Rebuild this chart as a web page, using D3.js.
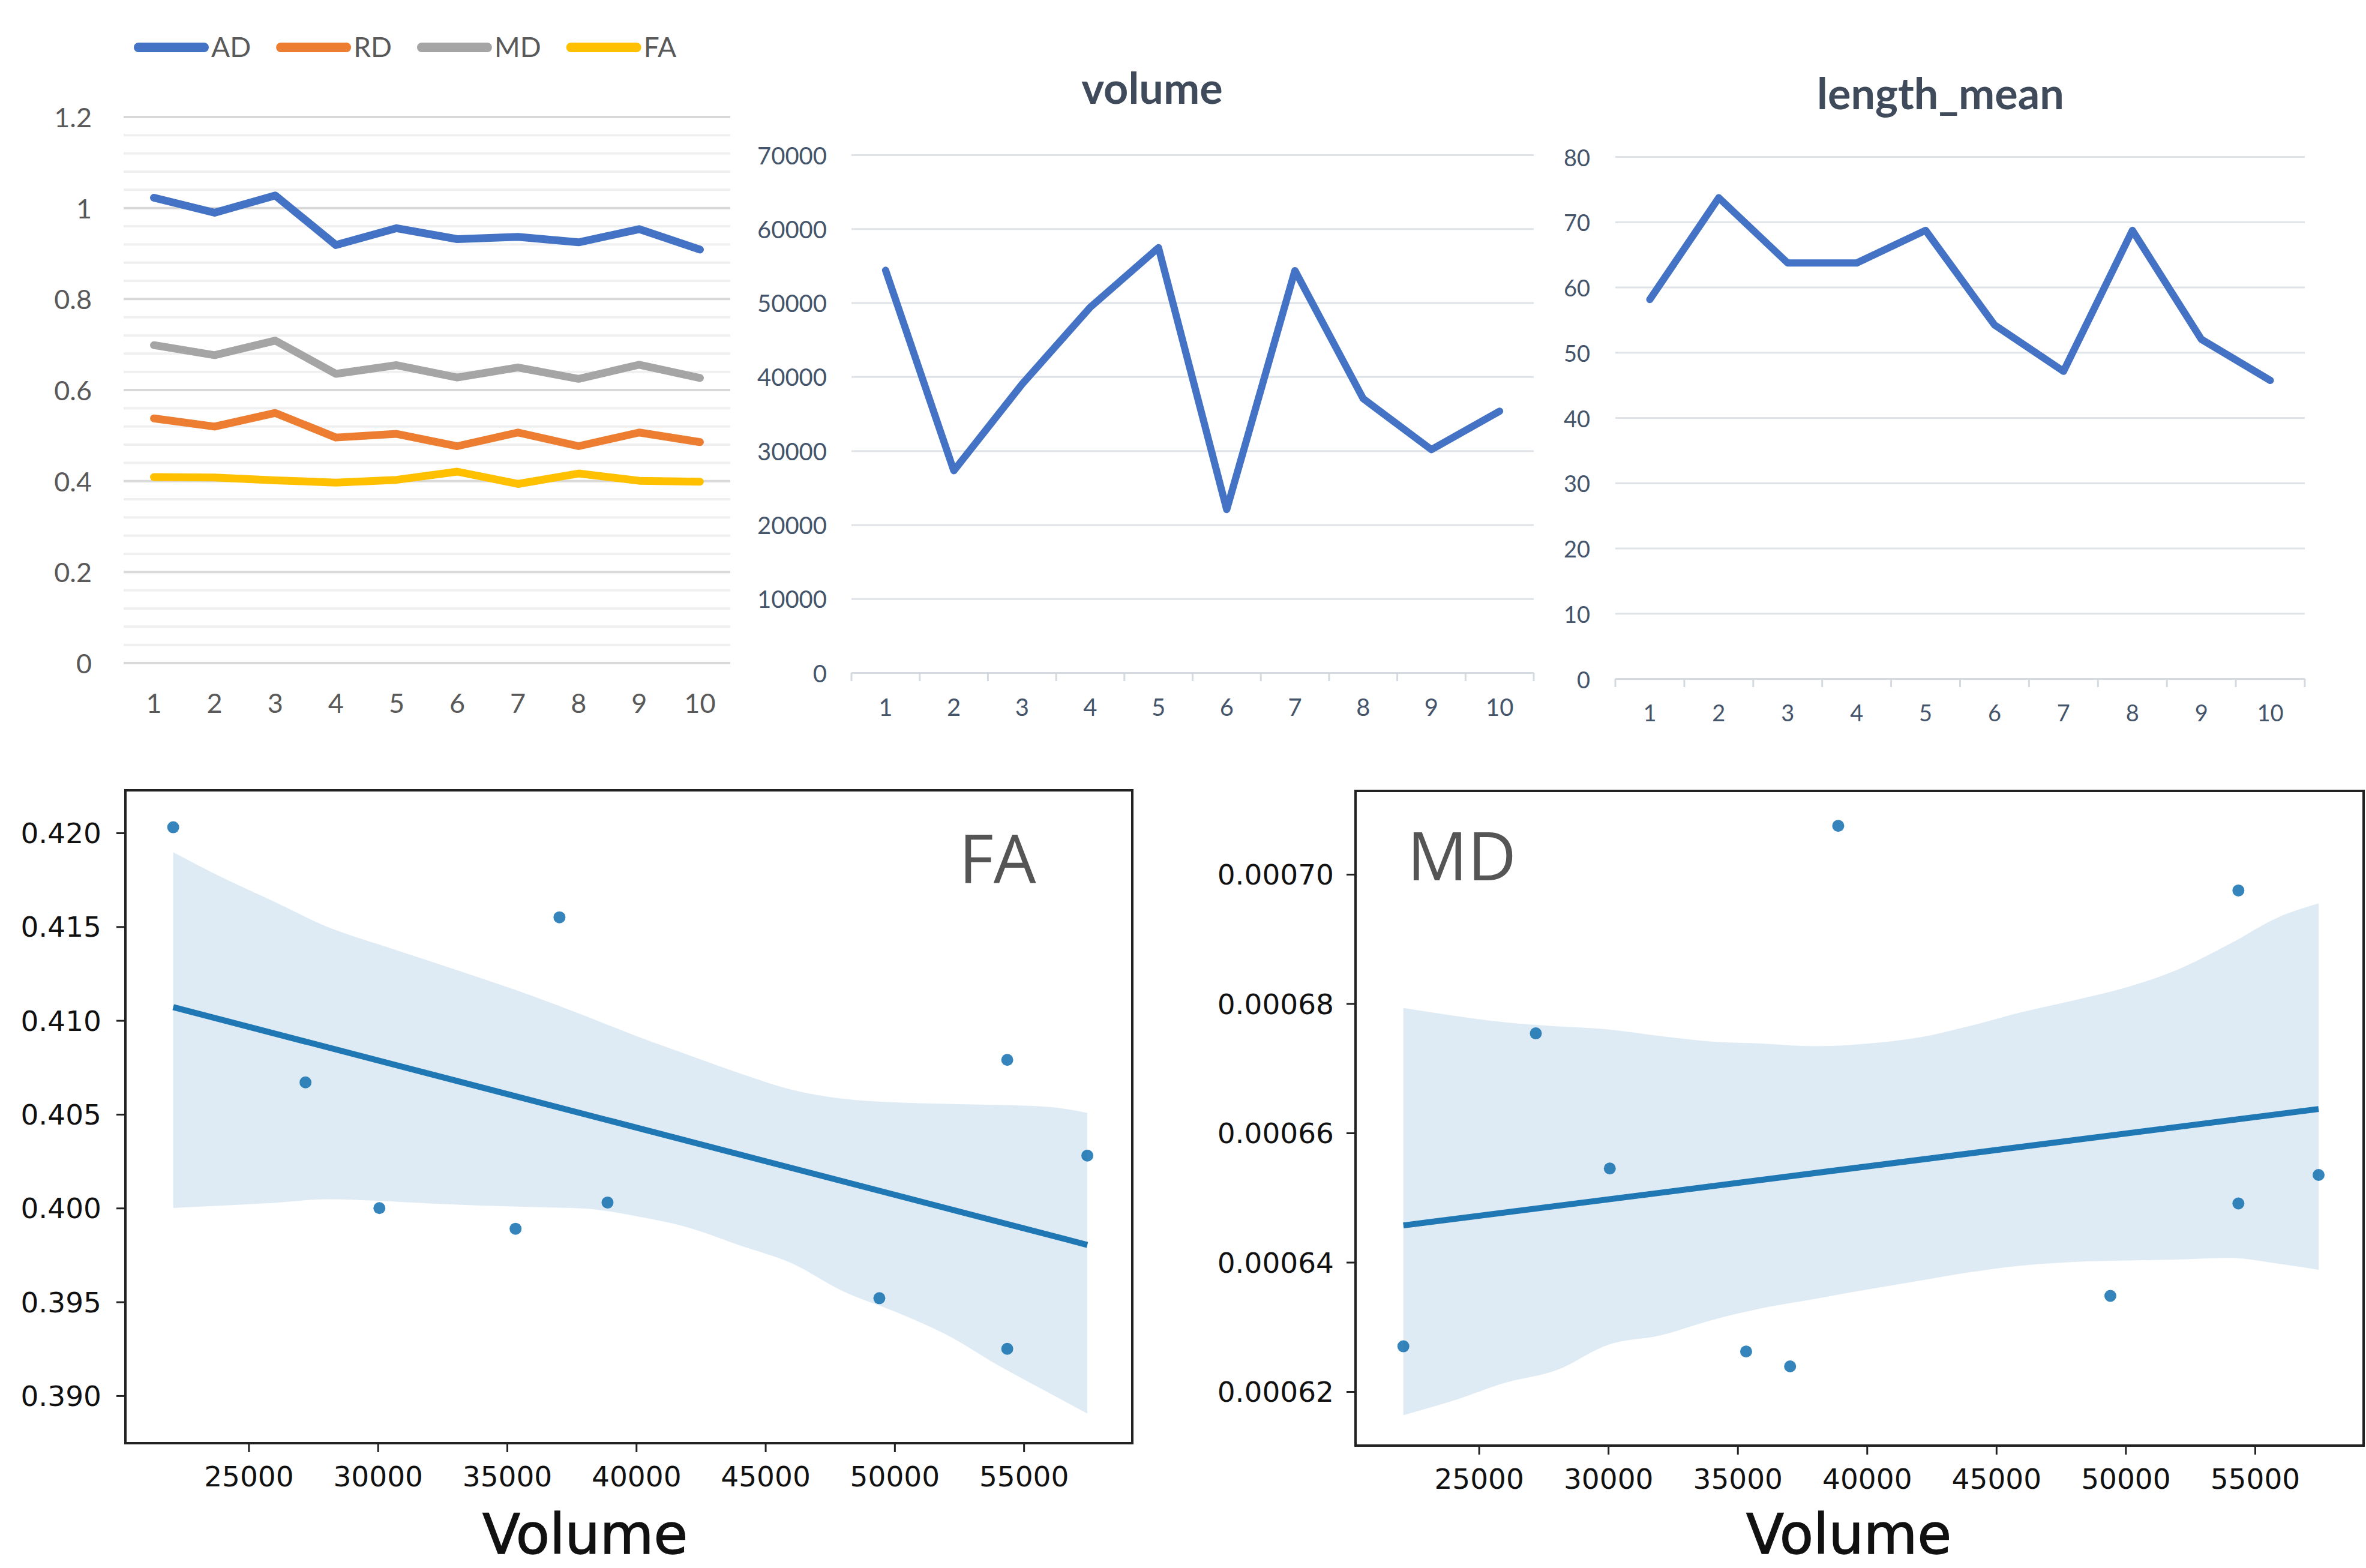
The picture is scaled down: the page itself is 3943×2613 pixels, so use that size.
<!DOCTYPE html>
<html>
<head>
<meta charset="utf-8">
<script src="https://cdn.jsdelivr.net/npm/d3@7"></script>
<style>
  body { margin: 0; background: #fff; }
  svg { display: block; }
</style>
</head>
<body>
<svg id="chart" width="3943" height="2613"></svg>
<script>
// ---- data ----
const categories = [1, 2, 3, 4, 5, 6, 7, 8, 9, 10];
const seriesNames = ["AD", "RD", "MD", "FA"];
const adValues = [1.022, 0.989, 1.027, 0.918, 0.955, 0.931, 0.936, 0.924, 0.953, 0.908];
const rdValues = [0.537, 0.519, 0.549, 0.495, 0.503, 0.476, 0.506, 0.476, 0.506, 0.485];
const mdValues = [0.698, 0.676, 0.708, 0.635, 0.654, 0.627, 0.649, 0.624, 0.655, 0.626];
const faValues = [0.408, 0.407, 0.401, 0.396, 0.402, 0.420, 0.393, 0.416, 0.400, 0.398];
const diffTicks = [0, 0.2, 0.4, 0.6, 0.8, 1, 1.2];

const volumeValues = [54400, 27300, 39000, 49400, 57450, 22050, 54350, 37050, 30150, 35350];
const volumeTicks = [0, 10000, 20000, 30000, 40000, 50000, 60000, 70000];

const lengthMeanValues = [58.1, 73.7, 63.7, 63.7, 68.7, 54.2, 47.1, 68.7, 52.0, 45.7];
const lengthTicks = [0, 10, 20, 30, 40, 50, 60, 70, 80];

// scatter panels (x = volume)
const scatterVolume = [22080, 27200, 30060, 35330, 37030, 38890, 49410, 54360, 54360, 57460];
const faScatter = [0.4203, 0.4067, 0.4000, 0.3989, 0.4155, 0.4003, 0.3952, 0.4079, 0.3925, 0.4028];
const mdScatter = [0.0006270, 0.0006754, 0.0006545, 0.0006262, 0.0006239, 0.0007075, 0.0006348, 0.0006975, 0.0006491, 0.0006535];
const scatterXTicks = [25000, 30000, 35000, 40000, 45000, 50000, 55000];
const faYTicks = [0.390, 0.395, 0.400, 0.405, 0.410, 0.415, 0.420];
const mdYTicks = [0.00062, 0.00064, 0.00066, 0.00068, 0.00070];

// regression lines (end points) and confidence bands
const fitVolume = [22080, 57460];
const faFit = [0.41071, 0.39804];
const mdFit = [0.0006457, 0.0006637];
const bandVolume = [22080, 24000, 26000, 28000, 30000, 32000, 34000, 36000, 38000, 40000,
  42000, 44000, 46000, 48000, 50000, 52000, 54000, 56000, 57460];
const faBandUpper = [0.41897, 0.41761, 0.41633, 0.41502, 0.41407, 0.41317, 0.41225, 0.41130, 0.41026, 0.40917,
  0.40817, 0.40719, 0.40632, 0.40583, 0.40564, 0.40556, 0.40550, 0.40539, 0.40507];
const faBandLower = [0.40001, 0.40014, 0.40028, 0.40047, 0.40039, 0.40025, 0.40014, 0.40006, 0.39998, 0.39957,
  0.39897, 0.39802, 0.39707, 0.39557, 0.39449, 0.39326, 0.39163, 0.39013, 0.38905];
const mdBandUpper = [0.00067933, 0.00067815, 0.00067712, 0.00067649, 0.00067601, 0.00067499, 0.00067412, 0.00067381, 0.00067341, 0.00067381,
  0.00067475, 0.00067657, 0.00067870, 0.00068051, 0.00068248, 0.00068525, 0.00068919, 0.00069353, 0.00069550];
const mdBandLower = [0.00061637, 0.00061858, 0.00062134, 0.00062331, 0.00062725, 0.00062867, 0.00063104, 0.00063294, 0.00063435, 0.00063578,
  0.00063712, 0.00063846, 0.00063948, 0.00064004, 0.00064027, 0.00064043, 0.00064067, 0.00063972, 0.00063885];

const svg = d3.select("#chart");
const excelFont = "Lato, 'Open Sans', sans-serif";
const mplFont = "'DejaVu Sans', sans-serif";

// ---------- panel 1 : AD / RD / MD / FA ----------
(function () {
  const left = 206, right = 1217;
  const x = d3.scalePoint().domain(categories).range([left, right]).padding(0.5);
  const y = d3.scaleLinear().domain([0, 1.2]).range([1104.5, 194.5]);
  const g = svg.append("g");

  // minor grid every 0.04
  const minor = d3.range(1, 30).map(i => i * 0.04).filter(v => Math.abs(v / 0.2 - Math.round(v / 0.2)) > 1e-6);
  g.append("g")
    .attr("transform", `translate(${left},0)`)
    .call(d3.axisLeft(y).tickValues(minor).tickSize(-(right - left)).tickFormat(""))
    .call(a => a.select(".domain").remove())
    .call(a => a.selectAll("line").attr("stroke", "#f0f0f0").attr("stroke-width", 4));

  g.append("g")
    .attr("transform", `translate(${left},0)`)
    .call(d3.axisLeft(y).tickValues(diffTicks).tickSize(-(right - left)).tickPadding(53)
      .tickFormat(d => String(+d.toFixed(1))))
    .call(a => a.select(".domain").remove())
    .call(a => a.selectAll("line").attr("stroke", "#d9d9d9").attr("stroke-width", 4))
    .call(a => a.selectAll("text").attr("dy", null).attr("dominant-baseline", "central")
      .attr("font-family", excelFont).attr("font-size", 45).attr("fill", "#595959"));

  g.append("g").selectAll("text")
    .data(categories)
    .join("text")
    .attr("x", d => x(d))
    .attr("y", 1171)
    .attr("text-anchor", "middle")
    .attr("dominant-baseline", "central")
    .attr("font-family", excelFont)
    .attr("font-size", 45)
    .attr("fill", "#595959")
    .text(d => d);

  const series = [
    { name: "AD", values: adValues, color: "#4472c4" },
    { name: "RD", values: rdValues, color: "#ed7d31" },
    { name: "MD", values: mdValues, color: "#a5a5a5" },
    { name: "FA", values: faValues, color: "#ffc000" }
  ];
  const line = d3.line().x((d, i) => x(categories[i])).y(d => y(d));
  g.selectAll(".series")
    .data(series)
    .join("path")
    .attr("fill", "none")
    .attr("stroke", d => d.color)
    .attr("stroke-width", 13)
    .attr("stroke-linejoin", "round")
    .attr("stroke-linecap", "round")
    .attr("d", d => line(d.values));

  // legend
  const leg = g.append("g");
  let cx = 223;
  series.forEach(s => {
    leg.append("line")
      .attr("x1", cx + 8).attr("x2", cx + 117)
      .attr("y1", 79).attr("y2", 79)
      .attr("stroke", s.color).attr("stroke-width", 16).attr("stroke-linecap", "round");
    const t = leg.append("text")
      .attr("x", cx + 129).attr("y", 77)
      .attr("dominant-baseline", "central")
      .attr("font-family", excelFont).attr("font-size", 46).attr("fill", "#595959")
      .text(s.name);
    cx = cx + 129 + t.node().getComputedTextLength() + 42;
  });
})();

// ---------- excel style single-series line chart ----------
function singleLine(cfg) {
  const g = svg.append("g");
  const x = d3.scalePoint().domain(categories).range([cfg.left, cfg.right]).padding(0.5);
  const y = d3.scaleLinear().domain([0, cfg.max]).range([cfg.bottom, cfg.top]);
  const step = x.step();

  g.append("g")
    .attr("transform", `translate(${cfg.left},0)`)
    .call(d3.axisLeft(y).tickValues(cfg.ticks).tickSize(-(cfg.right - cfg.left)).tickPadding(cfg.labelPad)
      .tickFormat(d3.format("d")))
    .call(a => a.select(".domain").remove())
    .call(a => a.selectAll("line").attr("stroke", "#dfe3e8").attr("stroke-width", 3)
      .filter(d => d === 0).attr("stroke", "#d5dae1"))
    .call(a => a.selectAll("text").attr("dy", null).attr("dominant-baseline", "central")
      .attr("font-family", excelFont).attr("font-size", cfg.fontSize).attr("fill", "#44546a"));

  // category boundary ticks on the base line
  const bounds = categories.map(c => x(c) - step / 2).concat([cfg.right]);
  g.append("g").selectAll("line")
    .data(bounds)
    .join("line")
    .attr("x1", d => d).attr("x2", d => d)
    .attr("y1", cfg.bottom).attr("y2", cfg.bottom + 14)
    .attr("stroke", "#d5dae1").attr("stroke-width", 3);

  g.append("g").selectAll("text")
    .data(categories)
    .join("text")
    .attr("x", d => x(d))
    .attr("y", cfg.labelY)
    .attr("text-anchor", "middle")
    .attr("dominant-baseline", "central")
    .attr("font-family", excelFont)
    .attr("font-size", cfg.fontSize)
    .attr("fill", "#44546a")
    .text(d => d);

  g.append("path")
    .datum(cfg.values)
    .attr("fill", "none")
    .attr("stroke", "#4472c4")
    .attr("stroke-width", 12)
    .attr("stroke-linejoin", "round")
    .attr("stroke-linecap", "round")
    .attr("d", d3.line().x((d, i) => x(categories[i])).y(d => y(d)));

  g.append("text")
    .attr("x", cfg.titleX).attr("y", cfg.titleY)
    .attr("text-anchor", "middle")
    .attr("font-family", excelFont).attr("font-weight", "bold")
    .attr("font-size", 72).attr("fill", "#3f4b5b")
    .text(cfg.title);
}

singleLine({
  title: "volume", values: volumeValues, ticks: volumeTicks, max: 70000,
  left: 1419, right: 2556, top: 258, bottom: 1121,
  labelPad: 41, labelY: 1178, fontSize: 40, titleX: 1920, titleY: 173
});

singleLine({
  title: "length_mean", values: lengthMeanValues, ticks: lengthTicks, max: 80,
  left: 2692, right: 3841, top: 261, bottom: 1131,
  labelPad: 42, labelY: 1187, fontSize: 38, titleX: 3234, titleY: 182
});

// ---------- seaborn style regression panels ----------
function regPanel(cfg) {
  const g = svg.append("g");
  const x = d3.scaleLinear().domain([20230, 59200]).range([cfg.left, cfg.right]);
  const y = d3.scaleLinear().domain(cfg.yDomain).range([cfg.bottom, cfg.top]);
  const blue = "#1f77b4";

  const area = d3.area()
    .x((d, i) => x(bandVolume[i]))
    .y0((d, i) => y(cfg.lower[i]))
    .y1(d => y(d))
    .curve(d3.curveMonotoneX);
  g.append("path")
    .datum(cfg.upper)
    .attr("fill", blue).attr("fill-opacity", 0.15)
    .attr("d", area);

  g.append("path")
    .datum(cfg.fit)
    .attr("fill", "none").attr("stroke", blue).attr("stroke-width", 10)
    .attr("d", d3.line().x((d, i) => x(fitVolume[i])).y(d => y(d)));

  g.append("g").selectAll("circle")
    .data(cfg.points)
    .join("circle")
    .attr("cx", (d, i) => x(scatterVolume[i]))
    .attr("cy", d => y(d))
    .attr("r", 10)
    .attr("fill", blue).attr("fill-opacity", 0.9);

  g.append("g")
    .attr("transform", `translate(${cfg.left},0)`)
    .call(d3.axisLeft(y).tickValues(cfg.yTicks).tickSize(15).tickPadding(cfg.yPad).tickFormat(d3.format(cfg.yFormat)))
    .call(a => a.select(".domain").remove())
    .call(a => a.selectAll("line").attr("stroke", "#222").attr("stroke-width", 3))
    .call(a => a.selectAll("text").attr("dy", null).attr("dominant-baseline", "central")
      .attr("font-family", mplFont).attr("font-size", 47).attr("fill", "#111"));

  g.append("g")
    .attr("transform", `translate(0,${cfg.bottom})`)
    .call(d3.axisBottom(x).tickValues(scatterXTicks).tickSize(15).tickPadding(24).tickFormat(d3.format("d")))
    .call(a => a.select(".domain").remove())
    .call(a => a.selectAll("line").attr("stroke", "#222").attr("stroke-width", 3))
    .call(a => a.selectAll("text")
      .attr("font-family", mplFont).attr("font-size", 47).attr("fill", "#111"));

  g.append("rect")
    .attr("x", cfg.left).attr("y", cfg.top)
    .attr("width", cfg.right - cfg.left).attr("height", cfg.bottom - cfg.top)
    .attr("fill", "none").attr("stroke", "#222").attr("stroke-width", 4);

  g.append("text")
    .attr("x", cfg.tagX).attr("y", cfg.tagY)
    .attr("font-family", "'Open Sans', sans-serif").attr("font-size", 112).attr("fill", "#555")
    .text(cfg.tag);

  g.append("text")
    .attr("x", cfg.xlabelX).attr("y", 2589)
    .attr("text-anchor", "middle")
    .attr("font-family", mplFont).attr("font-size", 92).attr("fill", "#111")
    .attr("stroke", "#111").attr("stroke-width", 1.5)
    .text("Volume");
}

regPanel({
  tag: "FA", points: faScatter, fit: faFit, upper: faBandUpper, lower: faBandLower,
  yDomain: [0.38747, 0.42227], yTicks: faYTicks, yFormat: ".3f", yPad: 25,
  left: 209, right: 1887, top: 1317, bottom: 2405,
  tagX: 1598, tagY: 1471, xlabelX: 975
});

regPanel({
  tag: "MD", points: mdScatter, fit: mdFit, upper: mdBandUpper, lower: mdBandLower,
  yDomain: [0.00061165, 0.0007129], yTicks: mdYTicks, yFormat: ".5f", yPad: 21,
  left: 2259, right: 3939, top: 1318, bottom: 2409,
  tagX: 2345, tagY: 1467, xlabelX: 3081
});
</script>
</body>
</html>
